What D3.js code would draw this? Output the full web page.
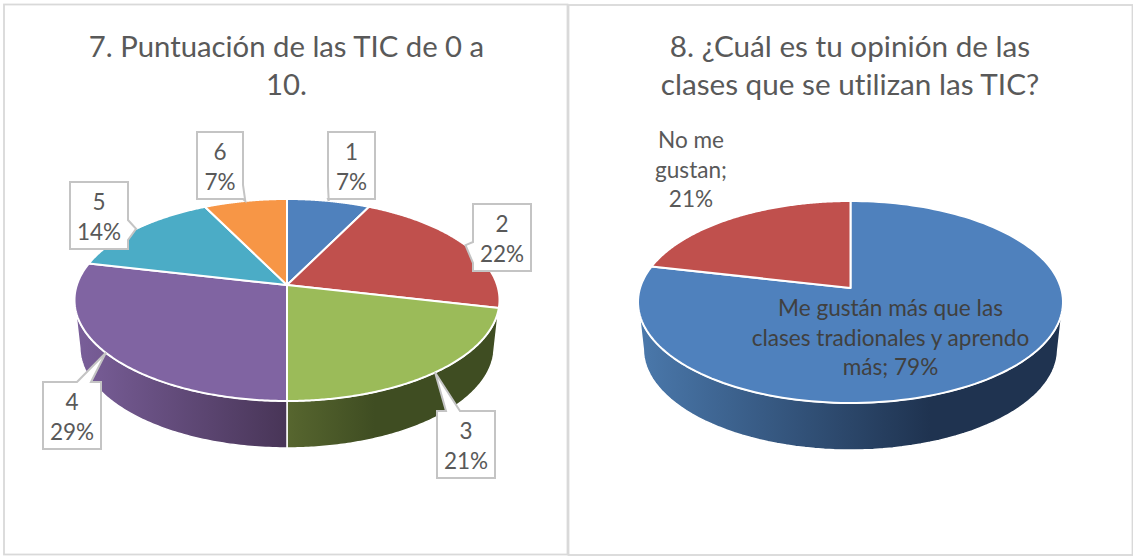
<!DOCTYPE html>
<html><head><meta charset="utf-8">
<script src="https://cdn.jsdelivr.net/npm/d3@7/dist/d3.min.js"></script>
<style>html,body{margin:0;padding:0;background:#fff}svg{display:block}text{font-family:Lato,sans-serif;font-variant-ligatures:none}</style>
</head><body><svg id="c" width="1133" height="556"></svg>
<script>
const title1 = ["7. Puntuación de las TIC de 0 a", "10."];
const categories1 = ["1","2","3","4","5","6"];
const values1 = [7.3,21.3,21.4,28.6,14.1,7.3];
const percentLabels1 = ["7%","22%","21%","29%","14%","7%"];
const colors1 = ["#4f81bd","#c0504d","#9bbb59","#8064a2","#4bacc6","#f79646"];
const sideFrom1 = ["#3a5f8c","#8e3a38","#57662f","#7a5f9a","#37809a","#b86f33"];
const sideTo1 = ["#2a4565","#6a2a28","#3f4d22","#483557","#27596b","#8a5325"];
const title2 = ["8. ¿Cuál es tu opinión de las", "clases que se utilizan las TIC?"];
const labelLines2a = ["Me gustán más que las","clases tradionales y aprendo","más; 79%"];
const labelLines2b = ["No me","gustan;","21%"];
const values2 = [78.6,21.4];
const colors2 = ["#4f81bd","#c0504d"];
const sideFrom2 = ["#4a78ab","#8e3a38"];
const sideTo2 = ["#1f3350","#6a2a28"];

// callout box geometry: [x,y,w,h, edge, base a, base b]
const boxes1 = [
  [328,132,47,67,"left",186,199],
  [473,204,58,67,"left",242,263],
  [437,411,58,67,"top",446,460],
  [43,382,58,67,"top",77,91],
  [70,182,58,67,"right",220,240],
  [197,132,46,67,"right",185,199]
];

const svg = d3.select("#c");
const defs = svg.append("defs");
const TXT = "#595959";

// panels
[[4,4.5,563.5,550],[568.5,5,564,550]].forEach(p=>{
  svg.append("rect").attr("x",p[0]).attr("y",p[1]).attr("width",p[2]).attr("height",p[3])
    .attr("fill","#fff").attr("stroke","#d9d9d9").attr("stroke-width",1.8);
});

function makePie(id, values, colors, from, to, g){
  const k = (2*g.cy - g.top - g.bottom) / (g.bottom - g.top); // perspective factor
  const a = (g.bottom - g.cy) * (1 + k);
  const b = g.rx * Math.sqrt(1 - k*k);
  const proj = t => {
    const u = Math.sin(t), v = -Math.cos(t), w = 1 + k*v;
    return [g.cx + b*u/w, g.cy + a*v/w];
  };
  const midY = (g.top + g.bottom)/2;
  const arcs = d3.pie().sort(null)(values);
  const layer = svg.append("g");

  // sides
  arcs.forEach((d,i)=>{
    const n = 120, pts = [];
    for(let j=0;j<=n;j++){
      const t = d.startAngle + (d.endAngle-d.startAngle)*j/n;
      const p = proj(t);
      if(p[1] >= midY) pts.push(p);
    }
    if(pts.length<2) return;
    const low = pts.map(p=>[g.cx+(p[0]-g.cx)*g.shrink, p[1]+g.depth]).reverse();
    const gid = id+"side"+i;
    const gr = defs.append("linearGradient").attr("id",gid).attr("gradientUnits","userSpaceOnUse")
      .attr("x1", g.grad[i][0]).attr("x2", g.grad[i][1]).attr("y1",0).attr("y2",0);
    gr.append("stop").attr("offset",0).attr("stop-color",from[i]);
    gr.append("stop").attr("offset",1).attr("stop-color",to[i]);
    layer.append("path").attr("d", d3.line()(pts.concat(low))+"Z")
      .attr("fill",`url(#${gid})`).attr("stroke","#fff").attr("stroke-width",1.5).attr("stroke-linejoin","round");
  });
  // tops
  arcs.forEach((d,i)=>{
    const n = 160, pts = [[g.cx,g.cy]];
    for(let j=0;j<=n;j++) pts.push(proj(d.startAngle+(d.endAngle-d.startAngle)*j/n));
    layer.append("path").attr("d", d3.line()(pts)+"Z")
      .attr("fill",colors[i]).attr("stroke","#fff").attr("stroke-width",2).attr("stroke-linejoin","round");
  });
  return {arcs, proj};
}

function title(lines, cx, size){
  lines.forEach((s,i)=>svg.append("text").attr("x",cx).attr("y",57+i*38).attr("text-anchor","middle")
    .attr("font-size",size).attr("fill",TXT).text(s));
}
title(title1,286.5,29.3); title(title2,850,29.7);

const P1 = makePie("a",values1,colors1,sideFrom1,sideTo1,{cx:287,cy:285,rx:212.5,top:199,bottom:401,depth:47,shrink:.975,
  grad:[[0,1],[0,1],[287,375],[75,287],[0,1],[0,1]]});
const P2 = makePie("b",values2,colors2,sideFrom2,sideTo2,{cx:850.5,cy:288,rx:212.5,top:201,bottom:403,depth:47,shrink:.975,
  grad:[[640,930],[0,1]]});

// callouts
P1.arcs.forEach((d,i)=>{
  const [x,y,w,h,edge,a,b] = boxes1[i];
  const tip = P1.proj((d.startAngle+d.endAngle)/2);
  let pts;
  if(edge==="top") pts=[[x,y],[a,y],tip,[b,y],[x+w,y],[x+w,y+h],[x,y+h]];
  if(edge==="left") pts=[[x,y],[x+w,y],[x+w,y+h],[x,y+h],[x,b],tip,[x,a]];
  if(edge==="right") pts=[[x,y],[x+w,y],[x+w,a],tip,[x+w,b],[x+w,y+h],[x,y+h]];
  svg.append("path").attr("d",d3.line()(pts)+"Z").attr("fill","#fff").attr("stroke","#c4c4c4").attr("stroke-width",2);
  const cx=x+w/2;
  svg.append("text").attr("x",cx).attr("y",y+28).attr("text-anchor","middle").attr("font-size",22.5).attr("fill",TXT).text(categories1[i]);
  svg.append("text").attr("x",cx).attr("y",y+57.5).attr("text-anchor","middle").attr("font-size",22.5).attr("fill",TXT).text(percentLabels1[i]);
});

// chart 2 labels
labelLines2a.forEach((s,i)=>
  svg.append("text").attr("x",890.5).attr("y",316+i*29.5).attr("text-anchor","middle").attr("font-size",22.6).attr("fill","#404040").text(s));
labelLines2b.forEach((s,i)=>
  svg.append("text").attr("x",691).attr("y",148+i*29.5).attr("text-anchor","middle").attr("font-size",22.6).attr("fill",TXT).text(s));
</script></body></html>
